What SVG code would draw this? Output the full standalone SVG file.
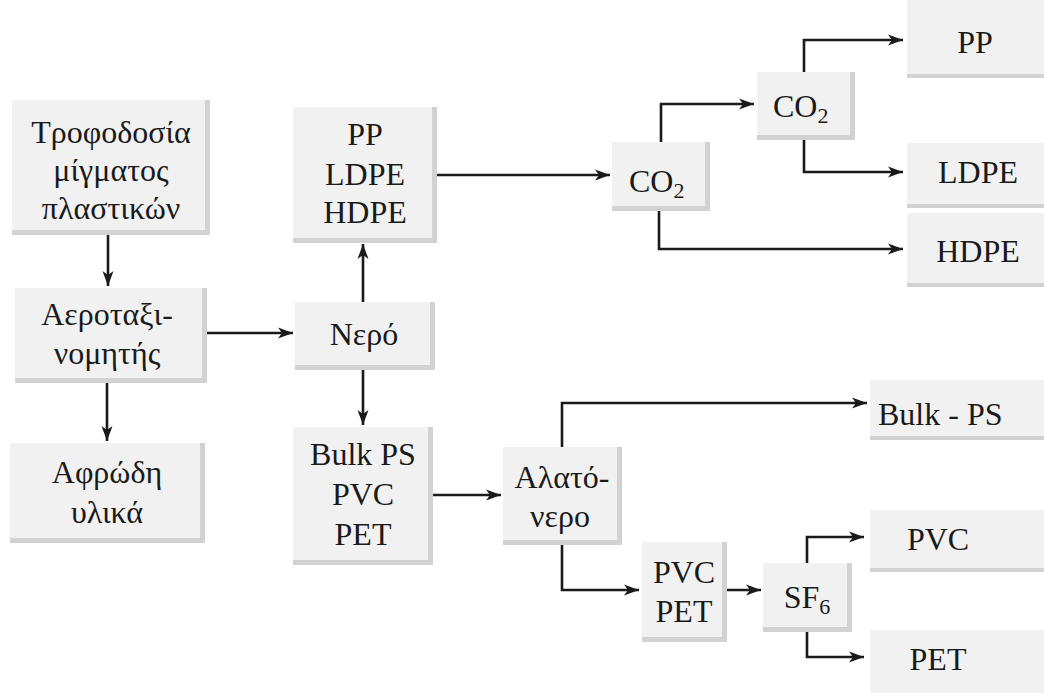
<svg xmlns="http://www.w3.org/2000/svg" width="1044" height="693" viewBox="0 0 1044 693">
<style>
.bx{fill:#f1f1f1}
.sh{fill:#d2d2d2}
.lbl{font-family:"Liberation Serif","Times New Roman",serif;font-size:32px;fill:#1a1a1a;text-anchor:middle}
.st{text-anchor:start}
.c{fill:none;stroke:#1a1a1a;stroke-width:2.6;marker-end:url(#ah)}
</style>
<defs>
<marker id="ah" markerUnits="userSpaceOnUse" markerWidth="16" markerHeight="12" refX="15" refY="6" orient="auto">
<path d="M0,0.5 L15,6 L0,11.5 L4,6 Z" fill="#1a1a1a"/>
</marker>
</defs>
<rect width="1044" height="693" fill="#fff"/>
<g id="feed"><rect class="sh" x="12" y="100" width="198" height="135"/><rect class="bx" x="12" y="100" width="193" height="130"/>
<text class="lbl" x="111" y="143">Τροφοδοσία</text><text class="lbl" x="111" y="181">μίγματος</text><text class="lbl" x="111" y="219">πλαστικών</text></g>
<g id="air"><rect class="sh" x="15" y="288" width="192" height="95"/><rect class="bx" x="15" y="288" width="187" height="90"/>
<text class="lbl" x="107" y="325">Αεροταξι-</text><text class="lbl" x="107" y="364">νομητής</text></g>
<g id="foam"><rect class="sh" x="10" y="443" width="195" height="100"/><rect class="bx" x="10" y="443" width="190" height="95"/>
<text class="lbl" x="107" y="483">Αφρώδη</text><text class="lbl" x="107" y="523">υλικά</text></g>
<g id="pe"><rect class="sh" x="293" y="107" width="144" height="136"/><rect class="bx" x="293" y="107" width="139" height="131"/>
<text class="lbl" x="365" y="145">PP</text><text class="lbl" x="365" y="185">LDPE</text><text class="lbl" x="365" y="223">HDPE</text></g>
<g id="water"><rect class="sh" x="295" y="302" width="140" height="68"/><rect class="bx" x="295" y="302" width="135" height="63"/>
<text class="lbl" x="364" y="345">Νερό</text></g>
<g id="heavy"><rect class="sh" x="293" y="427" width="140" height="138"/><rect class="bx" x="293" y="427" width="135" height="133"/>
<text class="lbl" x="363" y="465">Bulk PS</text><text class="lbl" x="363" y="505">PVC</text><text class="lbl" x="363" y="545">PET</text></g>
<g id="co2a"><rect class="sh" x="612" y="142" width="98" height="69"/><rect class="bx" x="612" y="142" width="93" height="64"/>
<text class="lbl st" x="629" y="192">CO<tspan font-size="22" dy="6">2</tspan></text></g>
<g id="co2b"><rect class="sh" x="757" y="72" width="98" height="68"/><rect class="bx" x="757" y="72" width="93" height="63"/>
<text class="lbl st" x="773" y="117">CO<tspan font-size="22" dy="6">2</tspan></text></g>
<g id="pp"><rect class="sh" x="907" y="0" width="137" height="78"/><rect class="bx" x="907" y="0" width="137" height="74"/>
<text class="lbl" x="975" y="53">PP</text></g>
<g id="ldpe"><rect class="sh" x="907" y="143" width="137" height="65"/><rect class="bx" x="907" y="143" width="137" height="61"/>
<text class="lbl" x="978" y="183">LDPE</text></g>
<g id="hdpe"><rect class="sh" x="907" y="213" width="137" height="74"/><rect class="bx" x="907" y="213" width="137" height="70"/>
<text class="lbl" x="978" y="262">HDPE</text></g>
<g id="brine"><rect class="sh" x="503" y="447" width="119" height="98"/><rect class="bx" x="503" y="447" width="114" height="93"/>
<text class="lbl" x="562" y="488">Αλατό-</text><text class="lbl" x="560" y="527">νερο</text></g>
<g id="pvcpet"><rect class="sh" x="642" y="542" width="85" height="100"/><rect class="bx" x="642" y="542" width="80" height="95"/>
<text class="lbl" x="684" y="583">PVC</text><text class="lbl" x="684" y="622">PET</text></g>
<g id="sf6"><rect class="sh" x="763" y="563" width="89" height="69"/><rect class="bx" x="763" y="563" width="84" height="64"/>
<text class="lbl" x="807" y="608">SF<tspan font-size="22" dy="6">6</tspan></text></g>
<g id="bulkps"><rect class="sh" x="870" y="380" width="174" height="60"/><rect class="bx" x="870" y="380" width="174" height="56"/>
<text class="lbl st" x="878" y="425">Bulk - PS</text></g>
<g id="pvc"><rect class="sh" x="870" y="510" width="174" height="62"/><rect class="bx" x="870" y="510" width="174" height="58"/>
<text class="lbl" x="938" y="550">PVC</text></g>
<g id="pet"><rect class="sh" x="870" y="630" width="174" height="63"/><rect class="bx" x="870" y="630" width="174" height="63"/>
<text class="lbl" x="938" y="670">PET</text></g>
<g id="connectors">
<path class="c" d="M108,235 V286"/>
<path class="c" d="M107,383 V441"/>
<path class="c" d="M207,333 H293"/>
<path class="c" d="M363,302 V244"/>
<path class="c" d="M363,370 V425"/>
<path class="c" d="M437,175 H610"/>
<path class="c" d="M433,495 H501"/>
<path class="c" d="M661,142 V104 H754"/>
<path class="c" d="M804,72 V40 H903"/>
<path class="c" d="M804,140 V172 H903"/>
<path class="c" d="M659,211 V249 H903"/>
<path class="c" d="M562,447 V403 H867"/>
<path class="c" d="M562,545 V590 H639"/>
<path class="c" d="M727,590 H761"/>
<path class="c" d="M807,563 V537 H864"/>
<path class="c" d="M807,632 V657 H864"/>
</g>
</svg>
